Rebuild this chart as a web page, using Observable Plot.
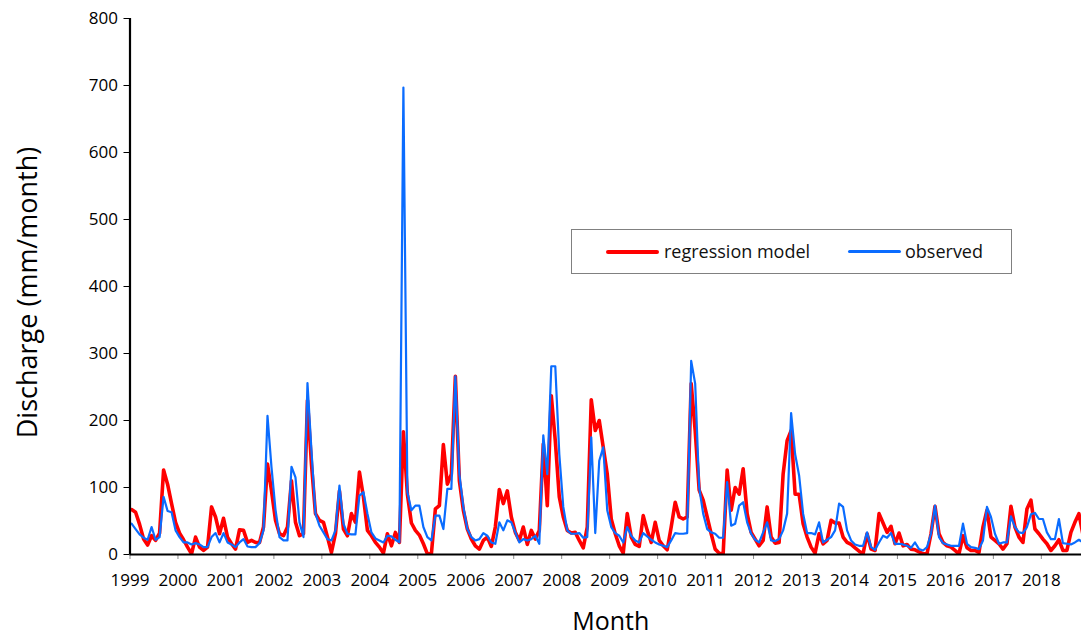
<!DOCTYPE html>
<html>
<head>
<meta charset="utf-8">
<script src="https://cdn.jsdelivr.net/npm/d3@7"></script>
<script src="https://cdn.jsdelivr.net/npm/@observablehq/plot@0.6"></script>
<style>
  html, body { margin: 0; padding: 0; background: #fff; overflow: hidden; }
  #wrap { position: relative; width: 1081px; height: 639px; font-family: "Open Sans", sans-serif; }
  #legend { position: absolute; left: 571px; top: 229px; width: 439px; height: 43px;
            border: 1px solid #808080; background: #fff; }
  .sw { position: absolute; top: 20px; height: 4px; width: 53px; border-radius: 2px; }
  .lt { position: absolute; top: 8px; font-size: 18px; line-height: 26px; color: #111; white-space: nowrap; }
</style>
</head>
<body>
<div id="wrap">
  <div id="chart"></div>
  <div id="legend">
    <div class="sw" style="left:34px; background:#ff0000;"></div>
    <div class="lt" style="left:92px;">regression model</div>
    <div class="sw" style="left:276px; height:3px; background:#0a6cff;"></div>
    <div class="lt" style="left:333px;">observed</div>
  </div>
</div>
<script>
// Monthly values, January 1999 onward (12 per row = one year)
const regression = [
  67, 63, 45, 23, 14, 28, 21, 32, 126, 105, 76, 48,
  32, 22, 11, 1, 26, 11, 6, 11, 71, 56, 31, 54,
  26, 16, 8, 37, 36, 18, 21, 18, 18, 41, 135, 95,
  51, 31, 28, 41, 110, 48, 28, 31, 230, 135, 61, 51,
  48, 26, 3, 31, 95, 38, 28, 61, 48, 123, 86, 36,
  28, 18, 11, 2, 31, 13, 33, 18, 183, 90, 47, 36,
  29, 16, 1, 1, 68, 73, 164, 105, 120, 266, 110, 66,
  38, 23, 13, 8, 21, 26, 12, 41, 97, 76, 95, 56,
  33, 21, 41, 15, 36, 23, 36, 165, 73, 237, 170, 86,
  56, 36, 32, 33, 21, 10, 41, 231, 185, 200, 160, 120,
  53, 31, 13, 2, 61, 26, 15, 12, 58, 36, 18, 48,
  21, 13, 7, 41, 78, 56, 53, 56, 255, 185, 96, 81,
  56, 31, 8, 2, 1, 126, 66, 100, 90, 128, 61, 33,
  23, 13, 21, 71, 26, 17, 18, 120, 170, 185, 90, 90,
  46, 26, 11, 2, 31, 16, 21, 51, 47, 47, 26, 18,
  15, 10, 5, 1, 31, 8, 6, 61, 47, 33, 42, 16,
  32, 13, 15, 8, 7, 4, 1, 1, 31, 72, 31, 18,
  13, 11, 6, 1, 28, 10, 6, 6, 3, 41, 66, 26,
  21, 16, 8, 16, 72, 41, 26, 18, 68, 81, 38, 31,
  23, 16, 6, 13, 22, 6, 6, 33, 48, 61, 30
];
const observed = [
  46, 38, 30, 25, 22, 41, 22, 26, 86, 65, 63, 36,
  26, 18, 18, 15, 17, 15, 11, 11, 26, 32, 18, 32,
  18, 15, 11, 18, 23, 12, 11, 11, 17, 36, 207, 130,
  67, 26, 21, 21, 131, 115, 48, 26, 256, 155, 61, 43,
  33, 23, 21, 36, 103, 46, 31, 30, 30, 88, 93, 61,
  33, 24, 21, 18, 28, 27, 22, 18, 697, 93, 66, 73,
  73, 41, 26, 21, 58, 58, 38, 98, 98, 266, 120, 71,
  38, 26, 21, 23, 32, 28, 18, 16, 48, 36, 51, 48,
  33, 18, 23, 21, 23, 28, 16, 178, 120, 281, 281, 150,
  71, 36, 31, 31, 32, 25, 26, 175, 32, 140, 160, 66,
  41, 32, 28, 18, 41, 28, 21, 18, 32, 27, 22, 18,
  15, 13, 11, 21, 32, 31, 31, 32, 289, 255, 100, 61,
  38, 33, 31, 25, 25, 108, 43, 46, 73, 78, 48, 31,
  22, 18, 33, 48, 21, 20, 23, 36, 61, 211, 150, 118,
  61, 32, 32, 30, 48, 18, 22, 26, 36, 76, 71, 36,
  21, 15, 13, 13, 33, 11, 7, 18, 28, 25, 32, 16,
  16, 15, 13, 10, 18, 8, 6, 11, 31, 73, 26, 17,
  15, 13, 13, 13, 46, 16, 11, 10, 8, 21, 71, 56,
  31, 16, 18, 18, 57, 41, 33, 32, 41, 60, 62, 53,
  53, 33, 23, 23, 53, 17, 16, 15, 18, 22, 18
];
const yearLabels = ["1999","2000","2001","2002","2003","2004","2005","2006","2007","2008",
                    "2009","2010","2011","2012","2013","2014","2015","2016","2017","2018"];
const yTicks = [0, 100, 200, 300, 400, 500, 600, 700, 800];
const xTitle = "Month";
const yTitle = "Discharge (mm/month)";

const rows = regression.map((v, i) => ({month: i + 0.4, regression: v, observed: observed[i]}));
const xTicks = yearLabels.map((_, i) => i * 12);

const chart = Plot.plot({
  width: 1081,
  height: 639,
  marginLeft: 129.5,
  marginRight: 0,
  marginTop: 18,
  marginBottom: 85,
  style: {fontFamily: "Open Sans, sans-serif", fontSize: "16px", background: "#fff", color: "#000"},
  x: {domain: [0, 238.05]},
  y: {domain: [0, 800]},
  marks: [
    Plot.lineY(rows, {x: "month", y: "regression", stroke: "#ff0000", strokeWidth: 3.6, clip: true}),
    Plot.lineY(rows, {x: "month", y: "observed", stroke: "#0a6cff", strokeWidth: 2.2, clip: true}),
    Plot.axisX({ticks: xTicks, tickFormat: d => yearLabels[d / 12], tickSize: 5, tickPadding: 14,
                stroke: "#8c8c8c", fill: "#000", fontSize: 17, label: null}),
    Plot.axisY({ticks: yTicks, tickSize: 6, tickPadding: 6, stroke: "#000", fill: "#000",
                fontSize: 17, label: null}),
    Plot.ruleY([0], {stroke: "#000", strokeWidth: 2.2}),
    Plot.ruleX([0], {stroke: "#000", strokeWidth: 2.2}),
    Plot.text([xTitle], {frameAnchor: "bottom", text: d => d, dx: 5, dy: 75, fontSize: 25, fill: "#000"}),
    Plot.text([yTitle], {frameAnchor: "left", textAnchor: "middle", text: d => d, dx: -102, dy: 6,
                         rotate: -90, fontSize: 27, fill: "#000"})
  ]
});
document.getElementById("chart").append(chart);
</script>
</body>
</html>
